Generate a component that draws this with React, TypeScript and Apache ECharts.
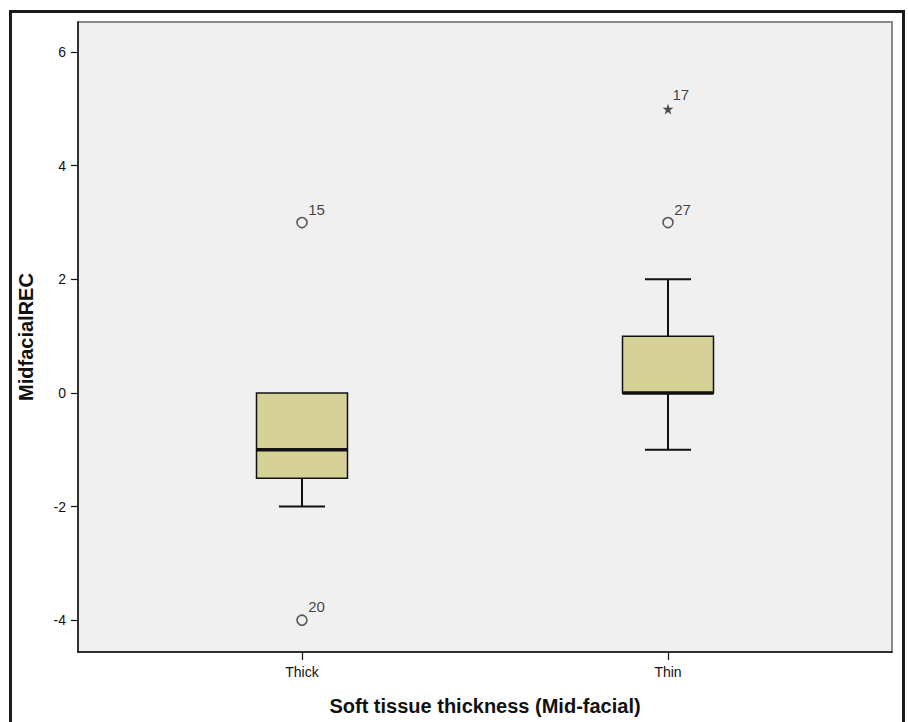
import React, { useEffect, useRef } from "react";
import * as echarts from "echarts";

// ---- data ----
const categories = ["Thick", "Thin"];
const categoryPos = [1, 2];
// [low whisker, Q1, median, Q3, high whisker]
const boxStats = [
  [-2, -1.5, -1, 0, 0],
  [-1, 0, 0, 1, 2],
];
// outliers: [category index, value, case id]
const circleOutliers = [
  [0, 3, "15"],
  [0, -4, "20"],
  [1, 3, "27"],
];
const extremeOutliers = [[1, 5, "17"]];
const yTicks = [-4, -2, 0, 2, 4, 6];

const STAR =
  "path://M50,0 L61,35 L98,35 L68,57 L79,91 L50,70 L21,91 L32,57 L2,35 L39,35 Z";

export default function App() {
  const ref = useRef<HTMLDivElement>(null);
  useEffect(() => {
    if (!ref.current) return;
    const chart = echarts.init(ref.current, undefined, { renderer: "svg" });
    const boxHalf = 0.1243;
    const capHalf = 0.063;
    const boxData = boxStats.map((s, i) => [categoryPos[i], ...s]);
    chart.setOption({
      animation: false,
      backgroundColor: "#ffffff",
      grid: {
        left: 78,
        top: 22,
        width: 814,
        height: 630,
        show: true,
        backgroundColor: "#F0F0F0",
        borderColor: "#8a8a8a",
        borderWidth: 2,
      },
      graphic: [
        {
          type: "rect",
          shape: { x: 10.5, y: 11.5, width: 893, height: 800 },
          style: { fill: "none", stroke: "#1a1a1a", lineWidth: 3 },
          silent: true,
          z: 100,
        },
      ],
      xAxis: {
        type: "value",
        min: 0.388,
        max: 2.612,
        splitLine: { show: false },
        axisLine: {
          show: true,
          onZero: false,
          lineStyle: { color: "#111", width: 1.5 },
        },
        axisTick: {
          show: true,
          customValues: categoryPos,
          length: 8,
          lineStyle: { color: "#111", width: 1.2 },
        },
        axisLabel: {
          customValues: categoryPos,
          formatter: (v: number) => categories[categoryPos.indexOf(v)] ?? "",
          color: "#111",
          fontSize: 14,
          fontFamily: "Arial, Liberation Sans, sans-serif",
          margin: 13,
        },
        name: "Soft tissue thickness (Mid-facial)",
        nameLocation: "middle",
        nameGap: 44,
        nameTextStyle: {
          fontSize: 20,
          fontWeight: "bold",
          color: "#111",
          fontFamily: "Arial, Liberation Sans, sans-serif",
        },
      },
      yAxis: {
        type: "value",
        min: -4.56,
        max: 6.53,
        splitLine: { show: false },
        axisLine: {
          show: true,
          onZero: false,
          lineStyle: { color: "#111", width: 1.5 },
        },
        axisTick: {
          show: true,
          customValues: yTicks,
          length: 7,
          lineStyle: { color: "#111", width: 1.2 },
        },
        axisLabel: {
          customValues: yTicks,
          color: "#111",
          fontSize: 14,
          fontFamily: "Arial, Liberation Sans, sans-serif",
          margin: 12,
        },
        name: "MidfacialREC",
        nameLocation: "middle",
        nameRotate: 90,
        nameGap: 42,
        nameTextStyle: {
          fontSize: 20,
          fontWeight: "bold",
          color: "#111",
          fontFamily: "Arial, Liberation Sans, sans-serif",
        },
      },
      series: [
        {
          type: "custom",
          data: boxData,
          renderItem: (params: any, api: any) => {
            const x = api.value(0);
            const low = api.value(1);
            const q1 = api.value(2);
            const med = api.value(3);
            const q3 = api.value(4);
            const high = api.value(5);
            const tl = api.coord([x - boxHalf, q3]);
            const br = api.coord([x + boxHalf, q1]);
            const cx = api.coord([x, 0])[0];
            const capL = api.coord([x - capHalf, 0])[0];
            const capR = api.coord([x + capHalf, 0])[0];
            const yLow = api.coord([x, low])[1];
            const yHigh = api.coord([x, high])[1];
            const yMed = api.coord([x, med])[1];
            const ls = { stroke: "#111", lineWidth: 2 };
            const children: any[] = [];
            if (high > q3) {
              children.push({
                type: "line",
                shape: { x1: cx, y1: tl[1], x2: cx, y2: yHigh },
                style: ls,
              });
              children.push({
                type: "line",
                shape: { x1: capL, y1: yHigh, x2: capR, y2: yHigh },
                style: ls,
              });
            }
            if (low < q1) {
              children.push({
                type: "line",
                shape: { x1: cx, y1: br[1], x2: cx, y2: yLow },
                style: ls,
              });
              children.push({
                type: "line",
                shape: { x1: capL, y1: yLow, x2: capR, y2: yLow },
                style: ls,
              });
            }
            children.push({
              type: "rect",
              shape: {
                x: tl[0],
                y: tl[1],
                width: br[0] - tl[0],
                height: br[1] - tl[1],
              },
              style: { fill: "#D6D197", stroke: "#111", lineWidth: 1.5 },
            });
            children.push({
              type: "line",
              shape: { x1: tl[0], y1: yMed, x2: br[0], y2: yMed },
              style: { stroke: "#111", lineWidth: 3.5 },
            });
            return { type: "group", children };
          },
          z: 2,
        },
        {
          type: "scatter",
          data: circleOutliers.map((o) => ({
            value: [categoryPos[o[0] as number], o[1]],
            name: o[2],
          })),
          symbol: "circle",
          symbolSize: 10,
          itemStyle: { color: "#F0F0F0", borderColor: "#333", borderWidth: 1.6 },
          label: {
            show: true,
            formatter: (p: any) => p.name,
            position: [12, -15],
            color: "#111",
            fontSize: 15,
            fontFamily: "Arial, Liberation Sans, sans-serif",
          },
          z: 3,
        },
        {
          type: "scatter",
          data: extremeOutliers.map((o) => ({
            value: [categoryPos[o[0] as number], o[1]],
            name: o[2],
          })),
          symbol: STAR,
          symbolSize: 11,
          itemStyle: { color: "#222" },
          label: {
            show: true,
            formatter: (p: any) => p.name,
            position: [10, -16],
            color: "#111",
            fontSize: 15,
            fontFamily: "Arial, Liberation Sans, sans-serif",
          },
          z: 3,
        },
      ],
    });
    return () => chart.dispose();
  }, []);
  return (
    <div
      ref={ref}
      style={{ position: "absolute", left: 0, top: 0, width: 908, height: 722 }}
    />
  );
}
